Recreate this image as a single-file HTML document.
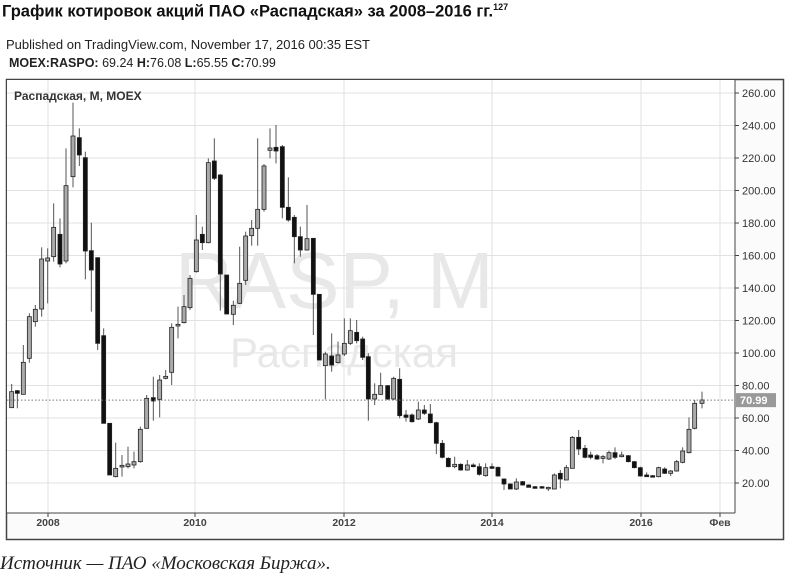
<!DOCTYPE html>
<html><head><meta charset="utf-8">
<style>
body{margin:0;width:790px;height:578px;background:#fff;overflow:hidden;position:relative;font-family:"Liberation Sans","DejaVu Sans",sans-serif}
.t{position:absolute;white-space:nowrap}
</style></head><body>
<div class="t" style="left:2px;top:2px;font-size:16.5px;font-weight:bold;color:#111">График котировок акций ПАО «Распадская» за 2008–2016 гг.<sup style="font-size:9px">127</sup></div>
<div class="t" style="left:6px;top:37px;font-size:13px;color:#222">Published on TradingView.com, November 17, 2016 00:35 EST</div>
<div class="t" style="left:9px;top:56px;font-size:12.5px;color:#222"><b>MOEX:RASPO:</b> 69.24 <b>H:</b>76.08 <b>L:</b>65.55 <b>C:</b>70.99</div>
<div class="t" style="left:0;top:553px;font-size:19px;font-style:italic;font-family:'Liberation Serif',serif;color:#222">Источник — ПАО «Московская Биржа».</div>
<svg id="s" width="790" height="578" style="position:absolute;left:0;top:0"></svg>
<script>
var s=document.getElementById('s'),h='';
function Y(v){return 483-(v-20)*1.625}
h+='<rect x="6.5" y="79.5" width="777" height="460" fill="#fbfbfb" stroke="#444" stroke-width="1.5"/>';
h+='<rect x="7" y="80" width="728" height="433" fill="#fff"/>';
for(var v=20;v<=260;v+=20){var y=Y(v);h+='<line x1="7" x2="735" y1="'+y+'" y2="'+y+'" stroke="#e2e2e2"/>';
h+='<line x1="735" x2="739" y1="'+y+'" y2="'+y+'" stroke="#444"/><text x="742" y="'+(y+4)+'" font-size="11" fill="#333">'+v.toFixed(2)+'</text>';}
[[48,'2008'],[195,'2010'],[344,'2012'],[492,'2014'],[641,'2016'],[720,'Фев']].forEach(function(a){h+='<line x1="'+a[0]+'" x2="'+a[0]+'" y1="80" y2="513" stroke="#e2e2e2"/><line x1="'+a[0]+'" x2="'+a[0]+'" y1="513" y2="517" stroke="#444"/><text x="'+a[0]+'" y="526" font-size="10.5" font-weight="bold" text-anchor="middle" fill="#444">'+a[1]+'</text>';});
h+='<text x="175" y="308" font-size="80" fill="#e8e8e8">RASP, M</text>';
h+='<text x="230" y="367" font-size="42" fill="#e8e8e8">Распадская</text>';
h+='<text x="14" y="100" font-size="12" font-weight="bold" fill="#333">Распадская, M, MOEX</text>';
var c1=[[35,935,983,912,983,0],[52,932,940,930,985,1],[70,847,943,795,943,0],[88,710,835,700,848,0],[106,688,725,675,740,0],[125,537,687,502,710,0],[143,534,543,505,670,0],[161,442,530,370,545,0],[180,463,552,415,562,1],[198,317,543,205,550,0],[219,168,290,68,322,0],[238,173,225,145,258,1],[256,233,513,215,598,1],[274,512,570,428,695,1],[293,533,790,533,810,1],[311,767,1030,745,1030,1],[329,1030,1185,1035,1185,1],[347,1165,1190,1088,1192,0],[366,1156,1161,1125,1190,0],[384,1152,1160,1100,1165,0],[402,1145,1155,1115,1165,0],[421,1048,1145,1040,1148,0],[440,955,1045,945,1045,0],[460,953,963,890,1022,1],[479,900,958,885,1012,0],[497,889,895,870,898,0],[515,742,877,730,915,0],[534,733,738,680,775,0],[552,680,728,645,730,0],[570,595,683,585,690,0],[589,480,575,405,578,0],[607,463,488,440,510,1],[625,248,488,235,490,0],[643,243,295,175,300,1],[661,285,582,282,692,1],[680,585,702,585,702,1],[700,676,703,662,735,0],[719,610,670,500,672,0],[737,468,601,455,615,0],[755,445,467,420,497,0],[773,388,445,175,497,0],[792,258,388,252,395,0],[810,204,211,145,235,0],[828,202,213,135,250,1],[847,200,382,195,415,1],[865,382,420,292,425,1],[883,412,470,405,550,1],[901,470,510,440,530,1],[921,476,510,375,512,0],[940,475,643,620,765,1],[958,643,840,643,840,1],[976,822,857,815,958,0],[995,828,855,760,875,1],[1014,825,848,785,850,0],[1033,790,822,715,828,0],[1051,752,790,715,795,0],[1070,757,782,720,790,1],[1088,777,832,770,840,1]];
var c2=[[25,170,297,160,362,1],[44,283,297,250,315,0],[62,257,283,218,285,0],[83,257,297,255,300,1],[101,235,297,230,300,0],[119,238,347,205,355,1],[138,345,352,330,365,1],[156,345,365,340,368,1],[175,330,357,305,360,0],[193,330,340,315,345,1],[211,342,368,312,370,1],[229,368,430,365,462,1],[247,430,472,420,475,1],[265,475,500,472,502,1],[284,493,500,470,505,0],[302,493,510,490,512,1],[322,495,510,480,512,0],[340,495,500,490,502,1],[358,500,523,490,527,1],[377,503,527,490,530,0],[396,500,505,490,507,1],[414,502,528,500,530,1],[432,537,552,535,570,1],[451,552,567,550,567,1],[469,546,567,535,570,0],[488,545,555,543,557,1],[506,555,562,553,562,1],[525,560,565,558,566,1],[546,560,564,558,566,1],[565,562,566,560,573,0],[583,525,567,520,568,0],[601,520,537,510,565,1],[619,503,540,495,540,0],[637,412,505,408,505,0],[656,412,447,390,465,1],[675,445,472,435,475,1],[692,465,472,455,478,1],[711,467,477,462,480,1],[729,470,475,465,490,0],[747,458,477,452,480,0],[765,458,472,442,477,1],[785,465,470,455,472,0],[805,467,485,465,487,1],[823,485,503,483,505,1],[841,503,528,500,530,1],[860,525,530,517,531,1],[878,527,530,525,532,1],[896,503,530,500,532,0],[914,507,520,502,522,1],[932,513,520,510,528,0],[950,485,513,480,515,0],[968,453,487,442,490,0],[987,388,458,352,460,0],[1004,310,385,300,388,0],[1026,300,310,275,325,0]];
function draw(c,ox,oy){var x=ox+c[0]/3,t=oy+c[1]/3,b=oy+c[2]/3,wt=oy+c[3]/3,wb=oy+c[4]/3;
h+='<line x1="'+x+'" x2="'+x+'" y1="'+wt+'" y2="'+wb+'" stroke="#555" stroke-width="1"/>';
h+='<rect x="'+(x-2)+'" y="'+t+'" width="4" height="'+Math.max(b-t,1.5)+'" fill="'+(c[5]?'#111':'#aaa')+'" stroke="#222" stroke-width="0.8"/>';}
c1.forEach(function(c){draw(c,0,80)});c2.forEach(function(c){draw(c,360,300)});
var yl=Y(70.99);
h+='<line x1="7" x2="735" y1="'+yl+'" y2="'+yl+'" stroke="#777" stroke-dasharray="1.5,2"/>';
h+='<rect x="736" y="'+(yl-7)+'" width="40" height="14" fill="#999"/><text x="740" y="'+(yl+4)+'" font-size="11" font-weight="bold" fill="#fff">70.99</text>';
h+='<line x1="735" x2="735" y1="80" y2="513" stroke="#444"/><line x1="7" x2="735" y1="513" y2="513" stroke="#444"/>';
s.innerHTML=h;
</script>
</body></html>
